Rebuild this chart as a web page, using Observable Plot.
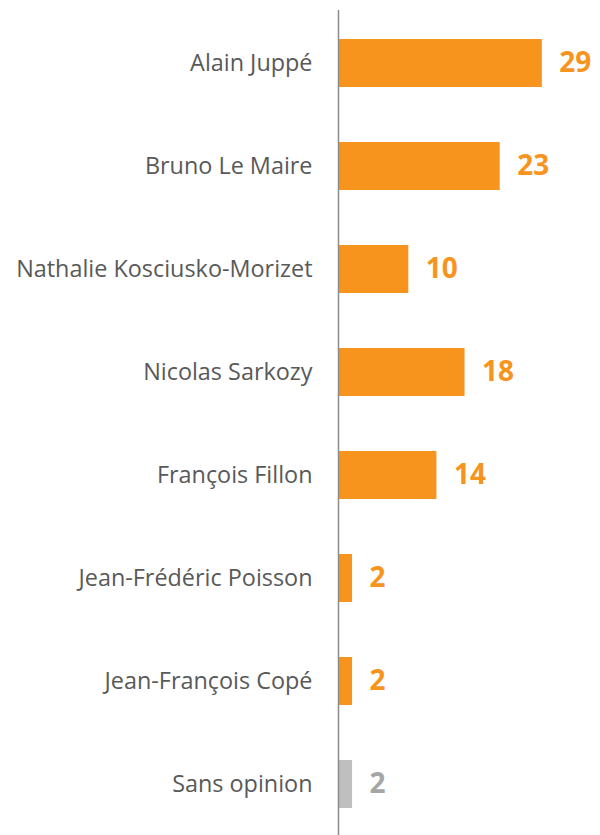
<!DOCTYPE html>
<html><head><meta charset="utf-8">
<script src="https://cdn.jsdelivr.net/npm/d3@7"></script>
<script src="https://cdn.jsdelivr.net/npm/@observablehq/plot@0.6"></script>
<style>body{margin:0;background:#fff}</style>
</head><body><div id="chart"></div>
<script>
const names = ["Alain Juppé","Bruno Le Maire","Nathalie Kosciusko-Morizet","Nicolas Sarkozy","François Fillon","Jean-Frédéric Poisson","Jean-François Copé","Sans opinion"];
const values = [29,23,10,18,14,2,2,2];
const barColors = ["#F7941D","#F7941D","#F7941D","#F7941D","#F7941D","#F7941D","#F7941D","#BFBFBF"];
const labelColors = ["#F7941D","#F7941D","#F7941D","#F7941D","#F7941D","#F7941D","#F7941D","#A6A6A6"];
const data = names.map((n,i)=>({name:n, value:values[i], fill:barColors[i], lc:labelColors[i]}));

const chart = Plot.plot({
  width: 600, height: 835,
  marginLeft: 338, marginRight: 0, marginTop: 10, marginBottom: 0,
  style: {fontFamily: "'Open Sans', sans-serif", background: "#fff"},
  x: {domain: [0, 37.27], axis: null},
  y: {domain: names, range: [10, 838], paddingInner: 0.53, paddingOuter: 0.265, axis: null},
  marks: [
    Plot.barX(data, {x: "value", y: "name", fill: "fill"}),
    Plot.ruleX([0], {stroke: "#8c8c8c", strokeWidth: 1.5}),
    Plot.text(data, {x: 0, y: "name", text: "name", textAnchor: "end", dx: -26, fontSize: 23.4, fill: "#595959"}),
    Plot.text(data, {x: "value", y: "name", text: d => String(d.value), textAnchor: "start", dx: 17, fontSize: 28, fontWeight: "bold", fill: "lc"})
  ]
});
document.getElementById("chart").appendChild(chart);
</script></body></html>
